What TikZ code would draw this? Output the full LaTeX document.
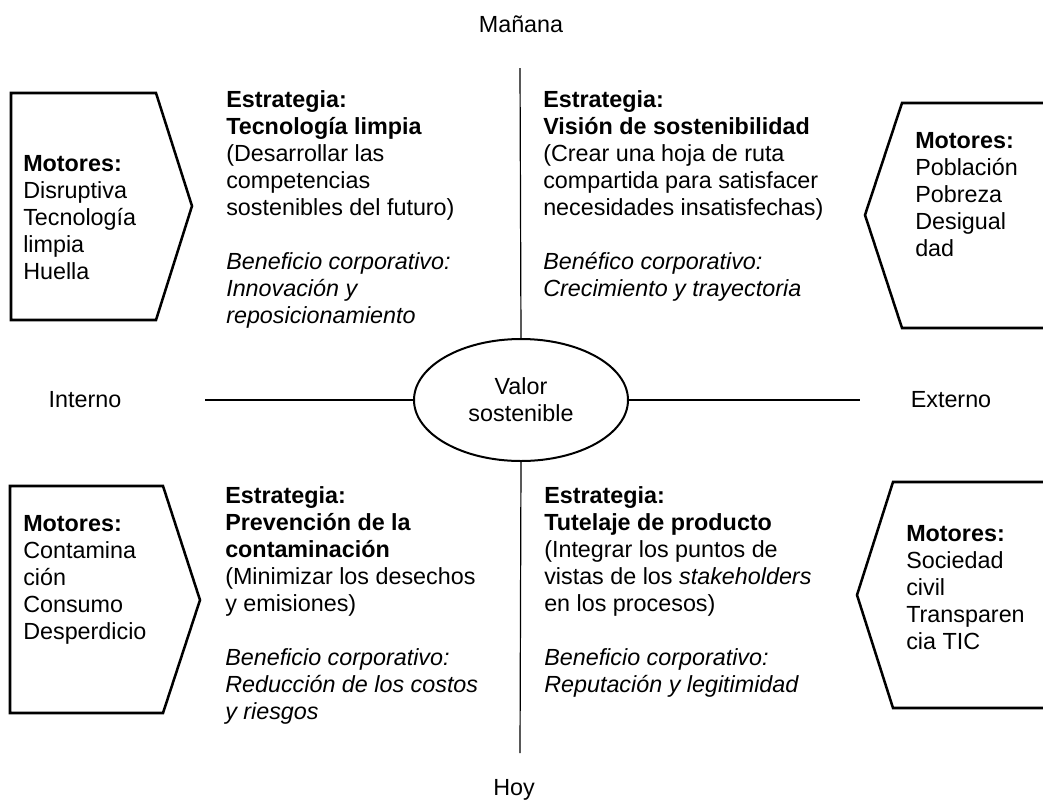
\documentclass[tikz,border=0pt]{standalone}
\usepackage{fontspec}
\setmainfont{Liberation Sans}
\usepackage{tikz}
\usetikzlibrary{shapes.geometric, positioning}

\begin{document}
\begin{tikzpicture}[x=0.75pt, y=-0.75pt]

	\tikzstyle{letra}=[font=\fontsize{17.5}{20.25}\selectfont]
	\tikzstyle{bloque}=[letra, inner sep=0pt, align=left, anchor=north west]
	\tikzstyle{eje}=[line width=0.9pt]
	\tikzstyle{motor}=[line width=1.9pt, line join=miter]
	\tikzstyle{valor}=[letra, ellipse, draw, line width=1.5pt, align=center, minimum width=160.5pt, minimum height=91.5pt, inner sep=0pt]

	\useasboundingbox (0, 0) rectangle (1043, 801);

	\coordinate (e_arriba) at (520, 68); % EJE VERTICAL
	\coordinate (e_abajo) at (520, 753); % EJE VERTICAL
	\coordinate (e_izq) at (205, 400); % EJE HORIZONTAL
	\coordinate (e_der) at (860, 400); % EJE HORIZONTAL

	\node[letra] (manana) at (521, 24) {Mañana};
	\node[letra] (hoy) at (514, 790) {Hoy};
	\node[letra] (interno) at (85, 400) {Interno};
	\node[letra] (externo) at (951, 400) {Externo};

	\node[valor] (vs) at (521, 400) {Valor\\ sostenible};

	\draw[eje] (e_arriba) -- (vs.north);
	\draw[eje] (vs.south) -- (e_abajo);
	\draw[eje] (e_izq) -- (vs.west);
	\draw[eje] (vs.east) -- (e_der);

	% MOTORES
	\draw[motor] (11, 93) -- (156, 93) -- (192, 206) -- (156, 320) -- (11, 320) -- cycle;
	\draw[motor] (1043, 103) -- (902, 103) -- (865, 215) -- (902, 328) -- (1043, 328);
	\draw[motor] (10, 486) -- (163, 486) -- (200, 600) -- (163, 713) -- (10, 713) -- cycle;
	\draw[motor] (1043, 482) -- (893, 482) -- (857, 595) -- (893, 708) -- (1043, 708);

	\node[bloque] (m_1) at (23, 155) {\textbf{Motores:}\\ Disruptiva\\ Tecnología\\ limpia\\ Huella};
	\node[bloque] (m_2) at (915, 132) {\textbf{Motores:}\\ Población\\ Pobreza\\ Desigual\\ dad};
	\node[bloque] (m_3) at (23, 515) {\textbf{Motores:}\\ Contamina\\ ción\\ Consumo\\ Desperdicio};
	\node[bloque] (m_4) at (906, 525) {\textbf{Motores:}\\ Sociedad\\ civil\\ Transparen\\ cia TIC};

	% ESTRATEGIAS
	\node[bloque] (s_1) at (226, 90) {\textbf{Estrategia:}\\ \textbf{Tecnología limpia}\\ (Desarrollar las\\ competencias\\ sostenibles del futuro)\\[20.25pt] \textit{Beneficio corporativo:}\\ \textit{Innovación y}\\ \textit{reposicionamiento}};
	\node[bloque] (s_2) at (543, 90) {\textbf{Estrategia:}\\ \textbf{Visión de sostenibilidad}\\ (Crear una hoja de ruta\\ compartida para satisfacer\\ necesidades insatisfechas)\\[20.25pt] \textit{Benéfico corporativo:}\\ \textit{Crecimiento y trayectoria}};
	\node[bloque] (s_3) at (225, 486) {\textbf{Estrategia:}\\ \textbf{Prevención de la}\\ \textbf{contaminación}\\ (Minimizar los desechos\\ y emisiones)\\[20.25pt] \textit{Beneficio corporativo:}\\ \textit{Reducción de los costos}\\ \textit{y riesgos}};
	\node[bloque] (s_4) at (544, 486) {\textbf{Estrategia:}\\ \textbf{Tutelaje de producto}\\ (Integrar los puntos de\\ vistas de los \textit{stakeholders}\\ en los procesos)\\[20.25pt] \textit{Beneficio corporativo:}\\ \textit{Reputación y legitimidad}};

\end{tikzpicture}
\end{document}
